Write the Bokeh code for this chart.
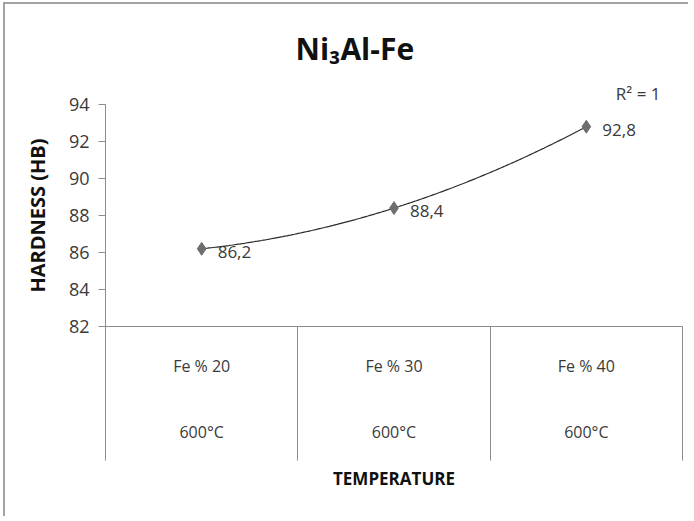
import numpy as np
from bokeh.plotting import figure
from bokeh.models import Range1d, LinearAxis, FixedTicker, LabelSet, ColumnDataSource, Title
from bokeh.core.properties import value
from bokeh.embed import file_html
from bokeh.resources import INLINE

# ---- data ----
categories = ["Fe % 20", "Fe % 30", "Fe % 40"]
temperatures = ["600°C", "600°C", "600°C"]
hardness = [86.2, 88.4, 92.8]
hardness_labels = ["86,2", "88,4", "92,8"]
y_ticks = [82, 84, 86, 88, 90, 92, 94]
title_text = "Ni₃Al-Fe"
r_squared_text = "R² = 1"

FONT = "Open Sans"
GRAY = "#8c8c8c"
TXT = "#3a3a3a"

n = len(categories)
centers = [i + 0.5 for i in range(n)]
boundaries = [float(i) for i in range(n + 1)]

p = figure(width=685, height=514, output_backend="svg", toolbar_location=None,
           x_range=Range1d(0, n), y_range=Range1d(y_ticks[0], y_ticks[-1]),
           x_axis_type=None, y_axis_type=None,
           min_border_left=100, min_border_right=8, min_border_top=100, min_border_bottom=192)
p.outline_line_color = None
p.background_fill_color = "white"
p.border_fill_color = "white"
p.styles = {"margin-left": "3px", "margin-top": "2px",
            "border-left": "2px solid #a3a3a3", "border-top": "2px solid #a3a3a3"}

# R² caption (placed just above the plot area)
r2 = Title(text=r_squared_text, align="right", offset=22, standoff=0,
           text_font=FONT, text_font_size="17px", text_font_style="normal",
           text_color=TXT)
p.add_layout(r2, "above")

# main title
p.title.text = title_text
p.title.align = "left"
p.title.offset = 190
p.title.standoff = 22
p.title.text_font = FONT
p.title.text_font_size = "30px"
p.title.text_font_style = "bold"
p.title.text_color = "#111111"

# y axis
yaxis = LinearAxis(ticker=FixedTicker(ticks=y_ticks, minor_ticks=[]), axis_label="HARDNESS (HB)")
yaxis.major_tick_out = 7
yaxis.major_tick_in = 0
yaxis.minor_tick_out = 0
yaxis.minor_tick_in = 0
yaxis.axis_line_color = GRAY
yaxis.major_tick_line_color = GRAY
yaxis.major_label_standoff = 9
yaxis.major_label_text_font = FONT
yaxis.major_label_text_font_size = "18px"
yaxis.major_label_text_color = TXT
yaxis.axis_label_standoff = 15
yaxis.axis_label_text_font = FONT
yaxis.axis_label_text_font_size = "20px"
yaxis.axis_label_text_font_style = "bold"
yaxis.axis_label_text_color = "#111111"
p.add_layout(yaxis, "left")

# x axis row 1 (categories, with category boundary lines)
xaxis1 = LinearAxis(ticker=FixedTicker(ticks=centers, minor_ticks=boundaries),
                    major_label_overrides={c: t for c, t in zip(centers, categories)})
xaxis1.major_tick_out = 0
xaxis1.major_tick_in = 0
xaxis1.major_tick_line_color = None
xaxis1.minor_tick_out = 134
xaxis1.minor_tick_in = 0
xaxis1.minor_tick_line_color = GRAY
xaxis1.axis_line_color = GRAY
xaxis1.major_label_standoff = -106
xaxis1.major_label_text_font = FONT
xaxis1.major_label_text_font_size = "16px"
xaxis1.major_label_text_color = TXT
p.add_layout(xaxis1, "below")

# x axis row 2 (temperatures) + axis title
xaxis2 = LinearAxis(ticker=FixedTicker(ticks=centers, minor_ticks=[]),
                    major_label_overrides={c: t for c, t in zip(centers, temperatures)},
                    axis_label="TEMPERATURE")
xaxis2.axis_line_color = None
xaxis2.major_tick_line_color = None
xaxis2.minor_tick_line_color = None
xaxis2.major_tick_out = 0
xaxis2.major_tick_in = 0
xaxis2.major_label_standoff = 41
xaxis2.major_label_text_font = FONT
xaxis2.major_label_text_font_size = "16px"
xaxis2.major_label_text_color = TXT
xaxis2.axis_label_standoff = 21
xaxis2.axis_label_text_font = FONT
xaxis2.axis_label_text_font_size = "17px"
xaxis2.axis_label_text_font_style = "bold"
xaxis2.axis_label_text_color = "#111111"
p.add_layout(xaxis2, "below")

# polynomial (order 2) trend line, as Excel's trendline
t_idx = np.arange(1, n + 1)
coef = np.polyfit(t_idx, hardness, 2)
tt = np.linspace(1, n, 200)
p.line(tt - 0.5, np.polyval(coef, tt), line_color="#2b2b2b", line_width=1.2)

src = ColumnDataSource(dict(x=centers, y=hardness, lab=hardness_labels))
p.scatter("x", "y", source=src, marker="diamond", size=13,
          fill_color="#6e6e6e", line_color="#6e6e6e")
p.add_layout(LabelSet(x="x", y="y", text="lab", source=src, x_offset=16, y_offset=-3,
                      text_baseline="middle", text_font=value(FONT),
                      text_font_size=value("17px"), text_color=TXT))

open("out.html", "w").write(file_html(p, INLINE))
